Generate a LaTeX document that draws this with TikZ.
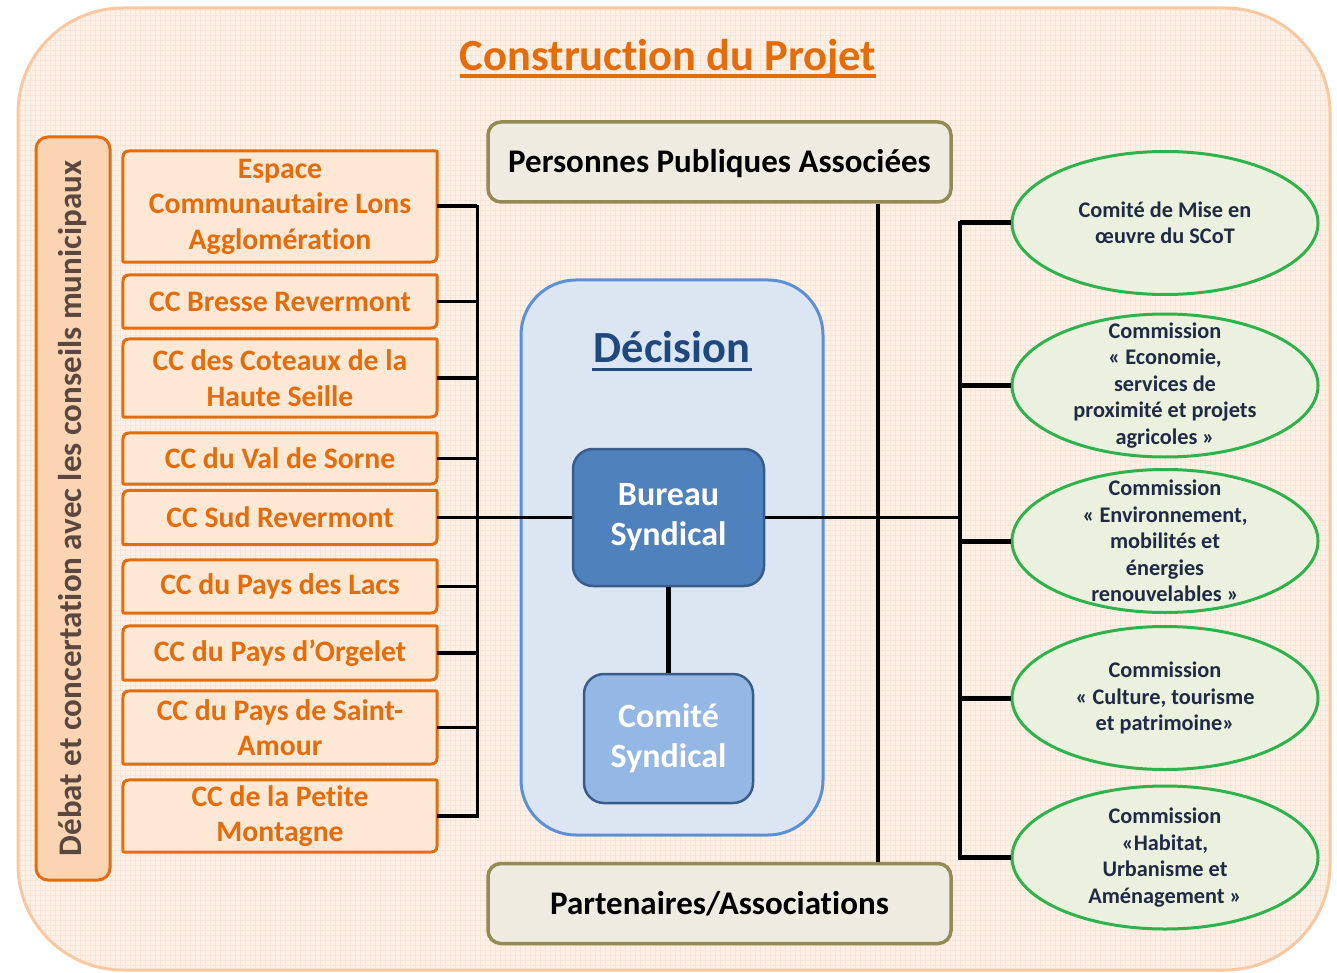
\documentclass[tikz,border=0pt]{standalone}
\usepackage{fontspec}
\setmainfont{Carlito}[Ligatures=NoCommon]
\usetikzlibrary{calc,shapes.geometric}

\definecolor{pagefill}{HTML}{FDF1E7}
\definecolor{pagegrid}{HTML}{F8E5D7}
\definecolor{pageline}{HTML}{F9C8A0}
\definecolor{orangeline}{HTML}{E46C0A}
\definecolor{orangefill}{HTML}{FDE7D5}
\definecolor{sidefill}{HTML}{FBD4B4}
\definecolor{sidetext}{HTML}{5A4840}
\definecolor{ppafill}{HTML}{EEECE1}
\definecolor{ppaline}{HTML}{948A54}
\definecolor{decfill}{HTML}{DCE6F2}
\definecolor{decline}{HTML}{5B8FD6}
\definecolor{dectext}{HTML}{1F497D}
\definecolor{burfill}{HTML}{4F81BD}
\definecolor{burline}{HTML}{385D8A}
\definecolor{comfill}{HTML}{95B7E5}
\definecolor{ellfill}{HTML}{EBF1DE}
\definecolor{ellline}{HTML}{2EB24C}
\definecolor{elltext}{HTML}{1F2A44}

\newcommand\setfs[2]{\fontsize{#1}{#2}\selectfont}

% frame with large rounding on two diagonal corners, small on the others
\newcommand\diagframe[2]{%
  \path[#1]
    ($(#2.north west)+(0,14)$) .. controls (#2.north west) .. ($(#2.north west)+(14,0)$)
    -- ($(#2.north east)+(-4,0)$) .. controls (#2.north east) .. ($(#2.north east)+(0,4)$)
    -- ($(#2.south east)+(0,-14)$) .. controls (#2.south east) .. ($(#2.south east)+(-14,0)$)
    -- ($(#2.south west)+(4,0)$) .. controls (#2.south west) .. ($(#2.south west)+(0,-4)$)
    -- cycle;}

\pgfdeclarelayer{bg}
\pgfsetlayers{bg,main}

\tikzset{
  pagebox/.style={draw=pageline, line width=3pt, rounded corners=105pt},
  titletext/.style={inner sep=0pt, text=orangeline, font=\bfseries\setfs{44.5}{50}},
  titleline/.style={draw=orangeline, line width=3.5pt},
  sidebox/.style={draw=orangeline, fill=sidefill, line width=3pt, rounded corners=12pt,
    rotate=90, minimum width=743pt, minimum height=74pt, inner sep=0pt,
    text=sidetext, font=\bfseries\setfs{33}{38}},
  obox/.style={rectangle, minimum width=314pt, minimum height=#1, inner sep=0pt,
    align=center, text=orangeline, font=\bfseries\setfs{29.7}{35.5}},
  oframe/.style={draw=orangeline, fill=orangefill, line width=3pt},
  gbox/.style={draw=ppaline, fill=ppafill, line width=3.5pt, rounded corners=13pt,
    minimum width=463pt, minimum height=80pt, inner sep=0pt,
    text height=25pt, text depth=3pt,
    font=\bfseries\setfs{33}{38}},
  decbox/.style={draw=decline, fill=decfill, line width=3pt, rounded corners=55pt,
    minimum width=302pt, minimum height=555pt, inner sep=0pt},
  dectitle/.style={inner sep=0pt, text=dectext, font=\bfseries\setfs{44.5}{50}},
  decline/.style={draw=dectext, line width=3.5pt},
  burbox/.style={draw=burline, fill=burfill, line width=2.5pt, rounded corners=20pt,
    inner sep=0pt, align=center, text=white, font=\bfseries\setfs{34}{40}},
  combox/.style={burbox, fill=comfill},
  ell/.style={ellipse, draw=ellline, fill=ellfill, line width=3pt,
    minimum width=306pt, minimum height=143pt, inner sep=0pt},
  elltxt/.style={inner sep=0pt, align=center, text=elltext, font=\bfseries\setfs{22.3}{26.5}},
  busline/.style={draw=black, line width=3pt},
  stub/.style={draw=black, line width=4pt},
  thinstub/.style={draw=black, line width=2.2pt},
  link/.style={draw=black, line width=3.2pt},
  thicklink/.style={draw=black, line width=5pt},
  rbusline/.style={draw=black, line width=4.5pt},
  rstub/.style={draw=black, line width=5pt},
}

\begin{document}
\begin{tikzpicture}[x=1pt,y=-1pt]
\useasboundingbox (0,0) rectangle (1337,973);

% bus positions
\coordinate (lbus) at (477,0);
\coordinate (mv) at (878,0);
\coordinate (rbus) at (960,0);

% title
\node[titletext] (title) at (668,59) {Construction du Projet};

% side label
\node[sidebox] (debat) at (73,508.5) {Débat et concertation avec les conseils municipaux};

% communities
\node[obox=111pt] (esp) at (280,206.5) {Espace\\Communautaire Lons\\Agglomération};
\node[obox=53pt]  (bre) at (280,301.5) {CC Bresse Revermont};
\node[obox=78pt]  (cot) at (280,378)   {CC des Coteaux de la\\Haute Seille};
\node[obox=51pt]  (val) at (280,458.5) {CC du Val de Sorne};
\node[obox=54pt]  (sud) at (280,517.5) {CC Sud Revermont};
\node[obox=53pt]  (lac) at (280,586.5) {CC du Pays des Lacs};
\node[obox=54pt]  (org) at (280,653)   {CC du Pays d’Orgelet};
\node[obox=73pt]  (sam) at (280,727.5) {CC du Pays de Saint-\\Amour};
\node[obox=72pt]  (pm)  at (280,816)   {CC de la Petite\\Montagne};

% associated bodies
\node[gbox] (ppa)  at (719.5,162)   {Personnes Publiques Associées};
\node[gbox] (part) at (719.5,903.5) {Partenaires/Associations};

% decision block
\node[decbox] (dec) at (672,557.5) {};
\node[dectitle] (dect) at (672,347) {Décision};
\node[burbox, minimum width=191pt, minimum height=137pt] (bureau) at (668.5,517.5) {Bureau\\Syndical};
\node[combox, minimum width=169pt, minimum height=129pt] (comite) at (668.5,738.5) {Comité\\Syndical};

% commissions
\node[ell] (e1) at (1165,223)   {};
\node[ell] (e2) at (1165,385.5) {};
\node[ell] (e3) at (1165,541)   {};
\node[ell] (e4) at (1165,698)   {};
\node[ell] (e5) at (1165,857.5) {};
\node[elltxt] (t1) at (e1) {Comité de Mise en\\œuvre du SCoT};
\node[elltxt] (t2) at (e2) {Commission\\« Economie,\\services de\\proximité et projets\\agricoles »};
\node[elltxt] (t3) at (e3) {Commission\\« Environnement,\\mobilités et\\énergies\\renouvelables »};
\node[elltxt] (t4) at (e4) {Commission\\« Culture, tourisme\\et patrimoine»};
\node[elltxt] (t5) at (e5) {Commission\\«Habitat,\\Urbanisme et\\Aménagement »};

% backgrounds and box frames
\begin{pgfonlayer}{bg}
  \fill[white] (0,0) rectangle (1337,973);
  \begin{scope}
    \clip[rounded corners=105pt] (18,8) rectangle (1330,970);
    \fill[pagefill] (18,8) rectangle (1330,970);
    \draw[pagegrid, line width=0.6pt, step=5pt] (15,5) grid (1335,972);
  \end{scope}
  \path[pagebox] (18,8) rectangle (1330,970);
  \foreach \n in {esp,bre,cot,val,sud,lac,org,sam,pm} {\diagframe{oframe}{\n}}
\end{pgfonlayer}

% underlines
\path[titleline] ($(title.base west)+(0,5)$) -- ($(title.base east)+(0,5)$);
\path[decline] ($(dect.base west)+(-2,7)$) -- ($(dect.base east)+(2,7)$);

% left bus
\path[busline] (esp.east) -| (pm.east -| lbus) -- (pm.east);
\foreach \n in {bre,cot,val,lac,org} {\path[link] (\n.east) -- (\n.east -| lbus);}
\path[stub] (esp.east) -- (esp.east -| lbus);
\path[stub] (pm.east) -- (pm.east -| lbus);
\path[thinstub] (sam.east) -- (sam.east -| lbus);
\path[link] (sud.east) -- (sud.east -| bureau.west);

% decision links
\path[link] (bureau.east) -- (bureau.east -| rbus);
\path[thicklink] (bureau.south) -- (comite.north);
\path[rbusline] (ppa.south -| mv) -- (part.north -| mv);

% right bus
\path[rbusline] (e1.west) -| (e5.west -| rbus) -- (e5.west);
\foreach \n in {e1,e2,e3,e4,e5} {\path[rstub] (\n.west) -- (\n.west -| rbus);}
\end{tikzpicture}
\end{document}
